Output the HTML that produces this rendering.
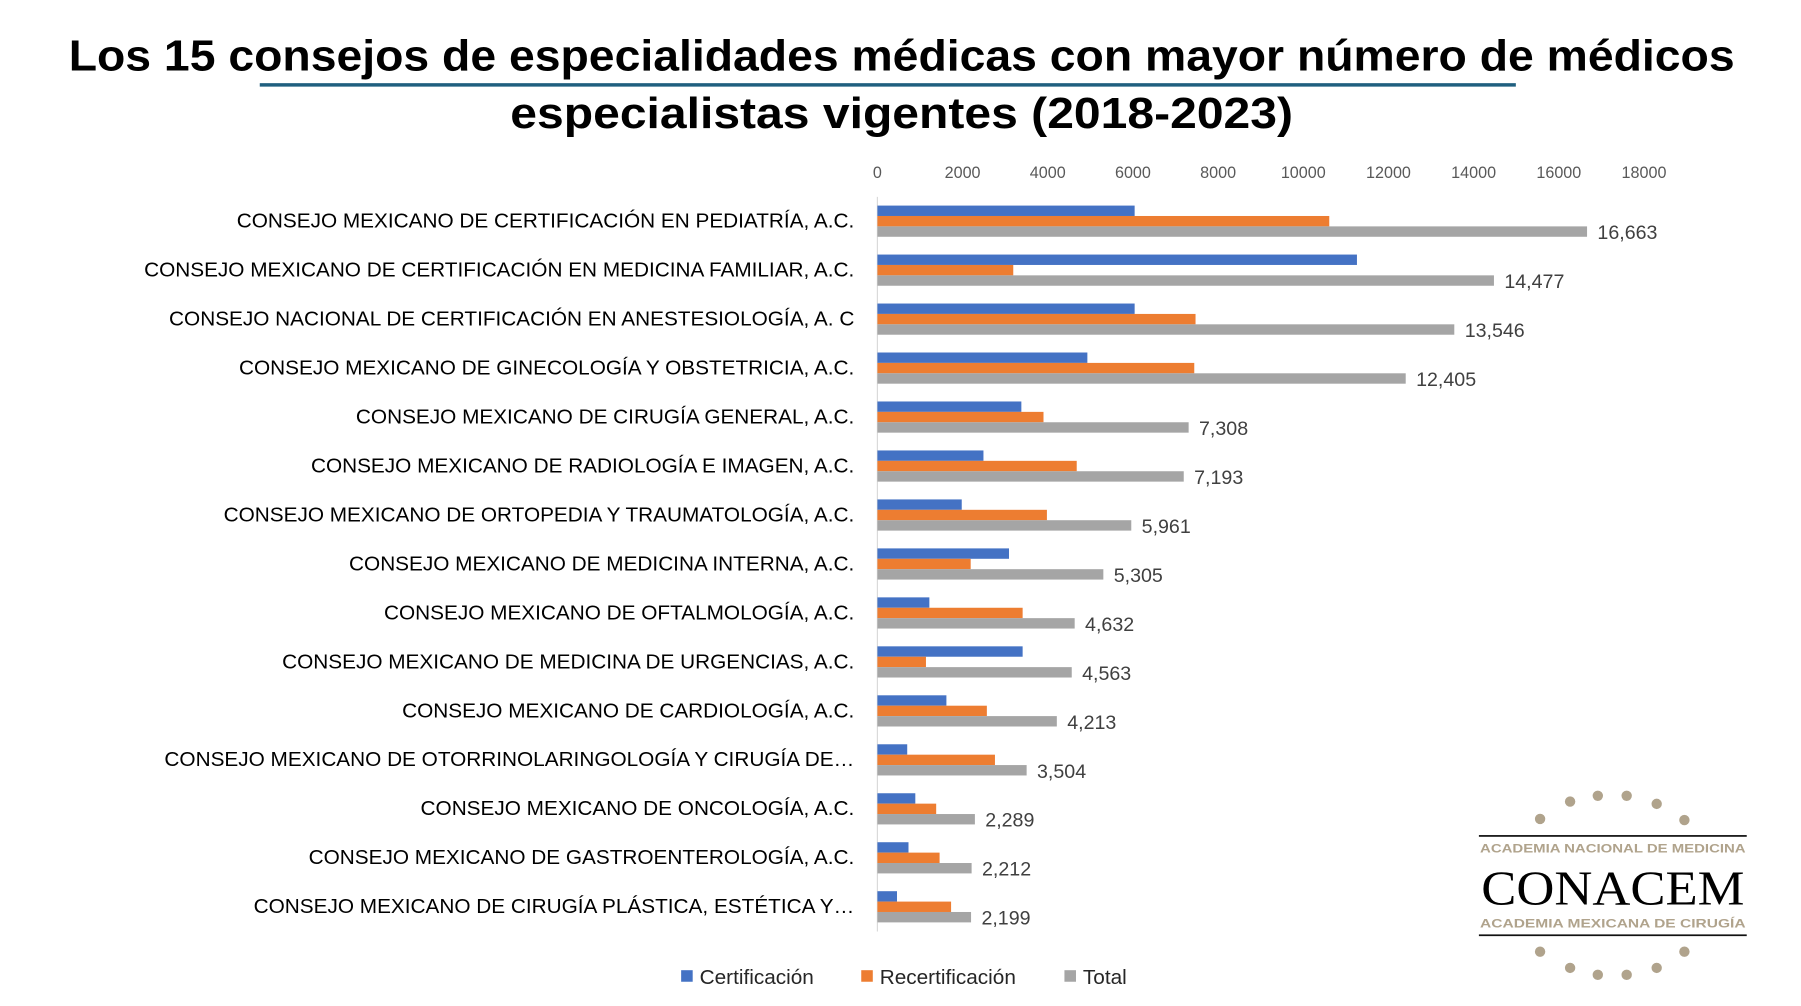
<!DOCTYPE html>
<html><head><meta charset="utf-8"><style>
html,body{margin:0;padding:0;background:#fff;overflow:hidden}
svg{display:block;font-family:"Liberation Sans",sans-serif}
</style></head><body>
<svg id="c" width="1801" height="1006" viewBox="0 0 1560 871" preserveAspectRatio="none" xmlns="http://www.w3.org/2000/svg">
<text x="781" y="61" text-anchor="middle" font-size="38" font-weight="bold" textLength="1443" lengthAdjust="spacingAndGlyphs" fill="#000">Los 15 consejos de especialidades médicas con mayor número de médicos</text>
<rect x="225" y="72" width="1088" height="3" fill="#1f5f7f"/>
<text x="781" y="111" text-anchor="middle" font-size="38" font-weight="bold" textLength="678" lengthAdjust="spacingAndGlyphs" fill="#000">especialistas vigentes (2018-2023)</text>
<g id="axis"></g>
<g id="bars"></g>
<g id="legend">
<rect x="590" y="840" width="10" height="10" fill="#4472c4"/>
<text x="606" y="852" font-size="18" fill="#262626">Certificación</text>
<rect x="746" y="840" width="10" height="10" fill="#ed7d31"/>
<text x="762" y="852" font-size="18" fill="#262626">Recertificación</text>
<rect x="922" y="840" width="10" height="10" fill="#a5a5a5"/>
<text x="938" y="852" font-size="18" fill="#262626">Total</text>
</g>
<g>
<g id="dots" fill="#b0a38c"></g>
<rect x="1281" y="723" width="232" height="1.5" fill="#111"/>
<text x="1397" y="738" text-anchor="middle" font-size="10.5" font-weight="bold" fill="#b0a38c" textLength="230" lengthAdjust="spacingAndGlyphs">ACADEMIA NACIONAL DE MEDICINA</text>
<text x="1397" y="783" text-anchor="middle" font-size="42" font-family="Liberation Serif,serif" fill="#000" textLength="228" lengthAdjust="spacingAndGlyphs">CONACEM</text>
<text x="1397" y="803" text-anchor="middle" font-size="10.5" font-weight="bold" fill="#b0a38c" textLength="230" lengthAdjust="spacingAndGlyphs">ACADEMIA MEXICANA DE CIRUGÍA</text>
<rect x="1281" y="809" width="232" height="1.5" fill="#111"/>
</g>
</svg>
<script>
const categories=["CONSEJO MEXICANO DE CERTIFICACIÓN EN PEDIATRÍA, A.C.","CONSEJO MEXICANO DE CERTIFICACIÓN EN MEDICINA FAMILIAR, A.C.","CONSEJO NACIONAL DE CERTIFICACIÓN EN ANESTESIOLOGÍA, A. C","CONSEJO MEXICANO DE GINECOLOGÍA Y OBSTETRICIA, A.C.","CONSEJO MEXICANO DE CIRUGÍA GENERAL, A.C.","CONSEJO MEXICANO DE RADIOLOGÍA E IMAGEN, A.C.","CONSEJO MEXICANO DE ORTOPEDIA Y TRAUMATOLOGÍA, A.C.","CONSEJO MEXICANO DE MEDICINA INTERNA, A.C.","CONSEJO MEXICANO DE OFTALMOLOGÍA, A.C.","CONSEJO MEXICANO DE MEDICINA DE URGENCIAS, A.C.","CONSEJO MEXICANO DE CARDIOLOGÍA, A.C.","CONSEJO MEXICANO DE OTORRINOLARINGOLOGÍA Y CIRUGÍA DE…","CONSEJO MEXICANO DE ONCOLOGÍA, A.C.","CONSEJO MEXICANO DE GASTROENTEROLOGÍA, A.C.","CONSEJO MEXICANO DE CIRUGÍA PLÁSTICA, ESTÉTICA Y…"];
const certificacion=[6040,11260,6040,4930,3380,2490,1980,3090,1220,3410,1620,700,890,730,460];
const recertificacion=[10610,3190,7470,7440,3900,4680,3980,2190,3410,1140,2570,2760,1380,1460,1730];
const total=[16663,14477,13546,12405,7308,7193,5961,5305,4632,4563,4213,3504,2289,2212,2199];
const totalLabels=["16,663","14,477","13,546","12,405","7,308","7,193","5,961","5,305","4,632","4,563","4,213","3,504","2,289","2,212","2,199"];
const ticks=[0,2000,4000,6000,8000,10000,12000,14000,16000,18000];
const NS="http://www.w3.org/2000/svg";
const x0=760,x1=1424,xmax=18000;
const xs=v=>x0+(x1-x0)*v/xmax;
const top0=170.5,band=42.4,bh=9;
function mk(t,a,p){const e=document.createElementNS(NS,t);for(const k in a)e.setAttribute(k,a[k]);p.appendChild(e);return e;}
const ax=document.getElementById('axis'),bars=document.getElementById('bars');
ticks.forEach(t=>{const e=mk('text',{x:xs(t),y:154,'text-anchor':'middle','font-size':14,fill:'#595959'},ax);


e.textContent=t;});
const al=mk('line',{x1:x0,x2:x0,y1:top0,y2:top0+band*15,stroke:'#d9d9d9','stroke-width':1},ax);


const series=[[certificacion,'#4472c4','certificacion'],[recertificacion,'#ed7d31','recertificacion'],[total,'#a5a5a5','total']];
categories.forEach((c,i)=>{
 const gy=top0+band*i+7.5;
 const lb=mk('text',{x:740,y:gy+19,'text-anchor':'end','font-size':18,fill:'#000'},bars);
 
 
 lb.textContent=c;
 series.forEach((s,j)=>{
  const r=mk('rect',{x:x0,y:gy+j*bh,width:xs(s[0][i])-x0,height:bh,fill:s[1]},bars);
  
  
 });
 const v=mk('text',{x:xs(total[i])+9,y:gy+29,'font-size':17,fill:'#404040'},bars);
 
 
 v.textContent=totalLabels[i];
});
const dots=document.getElementById('dots');
[[1334,709],[1360,694],[1384,689],[1409,689],[1435,696],[1459,710],[1334,824],[1360,838],[1384,844],[1409,844],[1435,838],[1459,824]].forEach(p=>{const d=mk('circle',{cx:p[0],cy:p[1],r:4.5},dots);

});
</script>
</body></html>
